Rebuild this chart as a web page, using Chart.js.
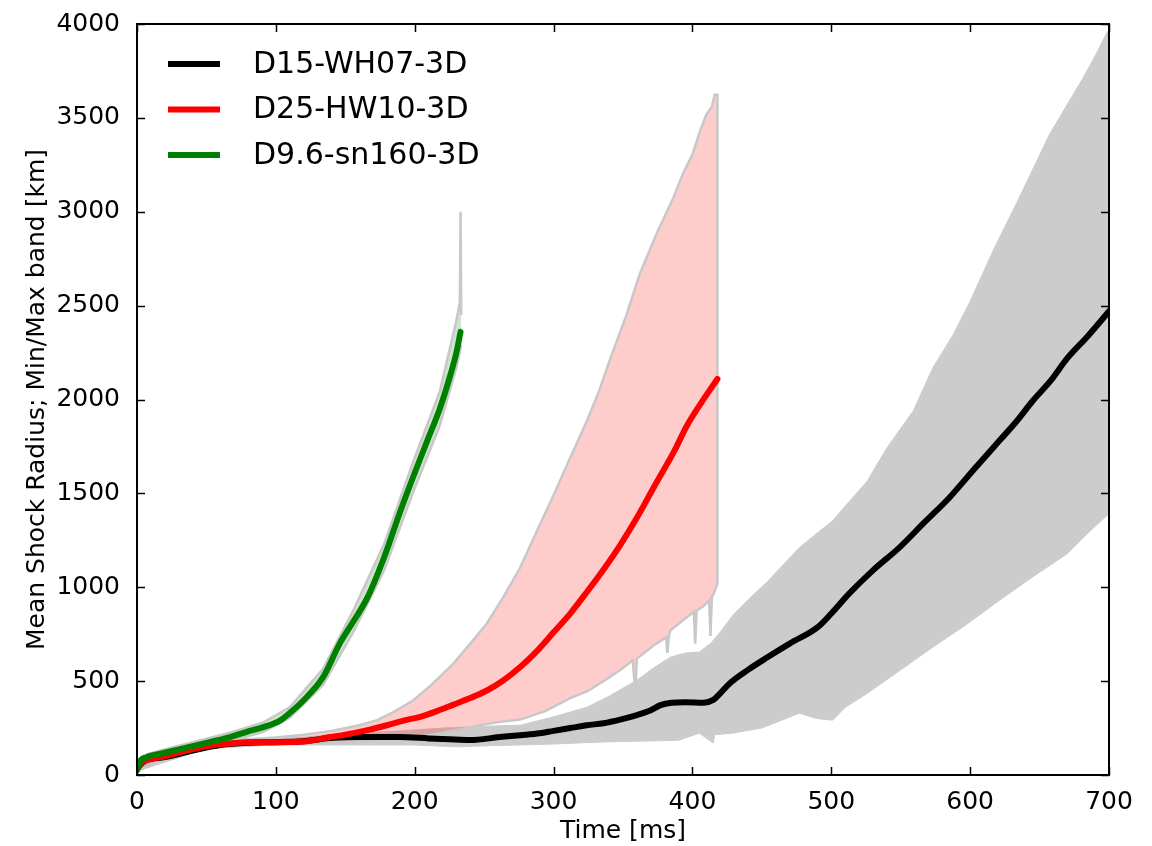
<!DOCTYPE html>
<html lang="en">
<head>
<meta charset="UTF-8">
<title>Mean Shock Radius</title>
<script src="https://cdn.jsdelivr.net/npm/chart.js@4.4.0/dist/chart.umd.min.js"></script>
<style>
  body { margin: 0; background: #fff; }
  canvas { display: block; }
</style>
</head>
<body>
<canvas id="shock" width="1152" height="846"></canvas>
<script>
// D9.6-sn160-3D mean shock radius
const greenT = [0, 2, 7, 19, 31, 43, 55, 67, 79, 91, 103, 110, 120, 134, 146, 156, 166, 178, 189, 199, 209, 218, 225, 230, 233];
const greenR = [25, 70, 95, 117, 138, 159, 180, 202, 230, 255, 290, 330, 398, 521, 700, 820, 946, 1160, 1392, 1590, 1780, 1950, 2114, 2250, 2360];
// min/max band
const greenHiT = [0, 7, 19, 43, 67, 91, 110, 134, 156, 178, 199, 218, 230, 232.5, 233, 233.5];
const greenHiR = [35, 110, 135, 180, 225, 280, 360, 565, 880, 1230, 1670, 2040, 2420, 2520, 3000, 2450];
const greenLoT = [0, 7, 19, 43, 67, 91, 110, 134, 156, 178, 199, 218, 230, 233.5];
const greenLoR = [15, 80, 100, 140, 180, 230, 305, 480, 765, 1090, 1510, 1860, 2170, 2290];

// D25-HW10-3D
const redT = [0, 3, 7, 20, 31, 43, 55, 67, 79, 100, 120, 139, 150, 166, 180, 192, 204, 216, 228, 240, 252, 264, 276, 288, 300, 312, 324, 336, 348, 360, 372, 387, 396, 407, 418];
const redR = [30, 65, 80, 100, 122, 142, 159, 168, 175, 175, 178, 202, 215, 239, 265, 290, 310, 340, 375, 410, 450, 505, 575, 660, 760, 860, 975, 1095, 1225, 1370, 1530, 1726, 1860, 1990, 2109];
const redHiT = [0, 20, 50, 80, 100, 120, 140, 160, 173, 186, 199, 212, 228, 240, 252, 264, 276, 288, 300, 312, 324, 333, 341, 352, 362, 374, 386, 393, 400, 405, 410, 414, 416, 418, 418];
const redHiR = [45, 110, 170, 190, 200, 215, 235, 265, 292, 340, 398, 480, 595, 700, 807, 950, 1105, 1300, 1490, 1690, 1886, 2050, 2220, 2440, 2667, 2880, 3070, 3200, 3304, 3420, 3517, 3560, 3623, 3623, 1020];
const redLoT = [0, 20, 50, 80, 100, 120, 140, 160, 180, 200, 220, 240, 258, 276, 294, 312, 324, 336, 348, 357, 358, 359, 360, 372, 381, 382, 383, 384, 396, 401, 402, 403, 405, 408, 412, 413, 414, 415, 418];
const redLoR = [20, 90, 150, 170, 172, 172, 175, 180, 190, 200, 225, 255, 280, 295, 340, 409, 445, 500, 560, 610, 520, 450, 620, 690, 733, 650, 740, 770, 840, 870, 700, 876, 885, 900, 930, 740, 950, 960, 1020];

// D15-WH07-3D
const blackT = [0, 3, 7, 20, 40, 60, 80, 100, 120, 141, 160, 189, 210, 225, 240, 261, 276, 290, 300, 312, 324, 336, 348, 360, 370, 377, 385, 395, 408, 415, 420, 427, 440, 454, 470, 490, 500, 513, 530, 549, 567, 585, 603, 621, 633, 645, 658, 670, 685, 700];
const blackR = [30, 60, 80, 95, 130, 160, 172, 175, 180, 198, 202, 202, 195, 190, 186, 202, 212, 222, 235, 250, 265, 276, 295, 319, 345, 372, 385, 388, 385, 400, 435, 489, 560, 627, 700, 786, 860, 967, 1090, 1211, 1345, 1477, 1630, 1780, 1880, 1992, 2100, 2220, 2340, 2470];
const blackHiT = [0, 50, 100, 120, 140, 160, 180, 200, 220, 240, 260, 276, 300, 324, 340, 360, 372, 384, 395, 405, 413, 420, 429, 441, 454, 477, 501, 526, 540, 559, 573, 588, 600, 617, 634, 646, 657, 669, 681, 690, 698, 700];
const blackHiR = [40, 175, 190, 200, 215, 225, 230, 240, 250, 255, 262, 265, 310, 361, 420, 505, 570, 627, 650, 655, 700, 760, 850, 940, 1030, 1211, 1355, 1567, 1742, 1939, 2167, 2348, 2523, 2800, 3054, 3240, 3410, 3560, 3708, 3830, 3947, 3970];
const blackLoT = [0, 50, 100, 150, 200, 230, 250, 276, 300, 336, 360, 390, 405, 415, 416, 429, 450, 477, 490, 501, 510, 526, 550, 573, 597, 621, 645, 670, 685, 700];
const blackLoR = [20, 140, 160, 160, 160, 150, 155, 160, 165, 176, 180, 185, 223, 170, 215, 223, 250, 329, 300, 292, 360, 435, 560, 680, 800, 930, 1055, 1179, 1290, 1392];

const xTicks = [0, 100, 200, 300, 400, 500, 600, 700];
const yTicks = [0, 500, 1000, 1500, 2000, 2500, 3000, 3500, 4000];
const legendOrder = [2, 1, 0];

function pts(ts, rs) {
    return ts.map((t, i) => ({x: t, y: rs[i]}));
}

const edgeGray = 'rgb(200,200,200)';

function meanLine(label, color, ts, rs) {
    return {
        label: label,
        data: pts(ts, rs),
        borderColor: color,
        borderWidth: 6,
        borderCapStyle: 'round',
        borderJoinStyle: 'round',
        cubicInterpolationMode: 'monotone',
        pointRadius: 0,
        fill: false
    };
}

function bandEdge(ts, rs, fillTo, fillColor, edgeWidth) {
    return {
        label: '',
        data: pts(ts, rs),
        borderColor: edgeGray,
        borderWidth: edgeWidth,
        pointRadius: 0,
        backgroundColor: fillColor,
        fill: fillTo === null ? false : fillTo
    };
}

// ticks on all four sides, pointing inwards, plus the frame
const frameTicks = {
    id: 'frameTicks',
    afterDraw(chart) {
        const {ctx, chartArea: a, scales} = chart;
        ctx.save();
        ctx.strokeStyle = '#000';
        ctx.lineWidth = 1.5;
        ctx.beginPath();
        xTicks.forEach(v => {
            const px = Math.round(scales.x.getPixelForValue(v)) + 0.5;
            ctx.moveTo(px, a.bottom); ctx.lineTo(px, a.bottom - 8);
            ctx.moveTo(px, a.top); ctx.lineTo(px, a.top + 8);
        });
        yTicks.forEach(v => {
            const py = Math.round(scales.y.getPixelForValue(v)) + 0.5;
            ctx.moveTo(a.left, py); ctx.lineTo(a.left + 8, py);
            ctx.moveTo(a.right, py); ctx.lineTo(a.right - 8, py);
        });
        ctx.stroke();
        ctx.lineWidth = 2;
        ctx.strokeRect(a.left, a.top, a.right - a.left, a.bottom - a.top);
        ctx.restore();
    }
};

const insideLegend = {
    id: 'insideLegend',
    afterDraw(chart) {
        const {ctx, chartArea: a} = chart;
        ctx.save();
        ctx.font = '30px "DejaVu Sans"';
        ctx.textBaseline = 'middle';
        legendOrder.forEach((idx, i) => {
            const ds = chart.data.datasets[idx];
            const y = a.top + 40 + i * 45.5;
            ctx.strokeStyle = ds.borderColor;
            ctx.lineWidth = 6;
            ctx.beginPath();
            ctx.moveTo(a.left + 31, y);
            ctx.lineTo(a.left + 83, y);
            ctx.stroke();
            ctx.fillStyle = '#000';
            ctx.fillText(ds.label, a.left + 116, y + 1);
        });
        ctx.restore();
    }
};

const datasets = [
    meanLine('D9.6-sn160-3D', '#008000', greenT, greenR),
    meanLine('D25-HW10-3D', '#ff0000', redT, redR),
    meanLine('D15-WH07-3D', '#000000', blackT, blackR),
    bandEdge(greenHiT, greenHiR, null, null, 2.5),
    bandEdge(greenLoT, greenLoR, 3, 'rgba(0,128,0,0.2)', 2.5),
    bandEdge(redHiT, redHiR, null, null, 2.5),
    bandEdge(redLoT, redLoR, 5, 'rgba(255,0,0,0.2)', 2.5),
    bandEdge(blackHiT, blackHiR, null, null, 1),
    bandEdge(blackLoT, blackLoR, 7, 'rgb(204,204,204)', 1)
];
datasets[7].borderColor = 'rgb(204,204,204)';
datasets[8].borderColor = 'rgb(204,204,204)';

new Chart('shock', {
    type: 'line',
    data: {datasets: datasets},
    options: {
        responsive: false,
        animation: false,
        layout: {padding: {left: 22, top: 22, right: 43, bottom: 0}},
        plugins: {
            legend: {display: false},
            tooltip: {enabled: false}
        },
        scales: {
            x: {
                type: 'linear',
                min: 0, max: 700,
                grid: {display: false},
                border: {display: false},
                afterFit(scale) { scale.height = 71; },
                afterBuildTicks(scale) { scale.ticks = xTicks.map(v => ({value: v})); },
                ticks: {
                    color: '#000',
                    padding: 4,
                    maxRotation: 0,
                    callback: v => String(v),
                    font: {family: 'DejaVu Sans', size: 25}
                },
                title: {
                    display: true,
                    text: 'Time [ms]',
                    color: '#000',
                    padding: 0,
                    font: {family: 'DejaVu Sans', size: 25}
                }
            },
            y: {
                min: 0, max: 4000,
                grid: {display: false},
                border: {display: false},
                afterFit(scale) { scale.width = 115; },
                afterBuildTicks(scale) { scale.ticks = yTicks.map(v => ({value: v})); },
                ticks: {
                    color: '#000',
                    padding: 9,
                    callback: v => String(v),
                    font: {family: 'DejaVu Sans', size: 25}
                },
                title: {
                    display: true,
                    text: 'Mean Shock Radius; Min/Max band [km]',
                    color: '#000',
                    padding: 0,
                    font: {family: 'DejaVu Sans', size: 25}
                }
            }
        }
    },
    plugins: [frameTicks, insideLegend]
});
</script>
</body>
</html>
